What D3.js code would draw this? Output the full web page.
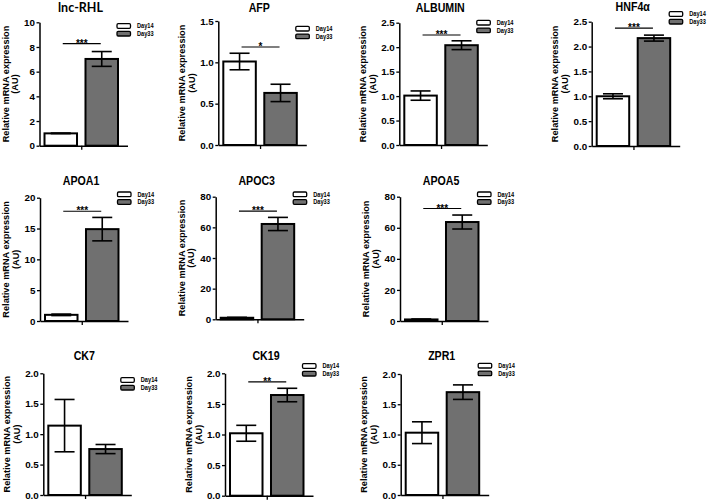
<!DOCTYPE html>
<html>
<head>
<meta charset="utf-8">
<script src="https://cdn.jsdelivr.net/npm/d3@7"></script>
<style>
  html, body { margin: 0; padding: 0; background: #fff; }
  svg { display: block; }
</style>
</head>
<body>
<div id="chart"></div>
<script>
// ---------------- DATA ----------------
const genes = ["lnc-RHL", "AFP", "ALBUMIN", "HNF4\u03b1", "APOA1", "APOC3", "APOA5", "CK7", "CK19", "ZPR1"];
const groups = ["Day14", "Day33"];
const day14Mean = [1.00, 1.01, 1.01, 1.00, 1.00, 1.00, 1.00, 1.14, 1.02, 1.03];
const day14Err  = [0.02, 0.10, 0.095, 0.05, 0.12, 0.30, 0.30, 0.43, 0.13, 0.18];
const day33Mean = [7.03, 0.63, 2.04, 2.17, 14.9, 62.2, 63.7, 0.755, 1.645, 1.70];
const day33Err  = [0.60, 0.105, 0.09, 0.06, 1.9, 4.3, 4.5, 0.075, 0.11, 0.12];
const yMax  = [10, 1.5, 2.5, 2.5, 20, 80, 80, 2.0, 2.0, 2.0];
const yStep = [2, 0.5, 0.5, 0.5, 5, 20, 20, 0.5, 0.5, 0.5];
const tickFormats = ["d", ".1f", ".1f", ".1f", "d", "d", "d", ".1f", ".1f", ".1f"];
const sigLabels = ["***", "*", "***", "***", "***", "***", "***", "", "**", ""];
const sigLevel  = [8.27, 1.185, 2.25, 2.37, 17.8, 70.6, 72.4, null, 1.86, null];
const yAxisTitle = ["Relative mRNA expression", "(AU)"];

// ---------------- LAYOUT (code, not data) ----------------
const layout = [
  { ax: 39.5,  top: 22.3,  bottom: 145.7, titleY: 11.5, legDy: 3.7 },
  { ax: 218.3, top: 21.0,  bottom: 145.0, titleY: 11.5, legDy: 7.7 },
  { ax: 399.3, top: 22.7,  bottom: 145.0, titleY: 12.0, legDy: 0.0 },
  { ax: 591.7, top: 21.7,  bottom: 146.0, titleY: 10.5, legDy: -7.7 },
  { ax: 40.0,  top: 197.7, bottom: 321.0, titleY: 185,  legDy: -3.4 },
  { ax: 215.7, top: 196.7, bottom: 319.3, titleY: 185,  legDy: -2.4 },
  { ax: 400.0, top: 196.7, bottom: 321.0, titleY: 185,  legDy: -2.4 },
  { ax: 43.3,  top: 373.3, bottom: 495.0, titleY: 360,  legDy: 6.7 },
  { ax: 225.0, top: 373.3, bottom: 495.7, titleY: 360,  legDy: -7.3 },
  { ax: 400.7, top: 374.0, bottom: 495.0, titleY: 360,  legDy: -8.3 }
];
const plotW = 88;
const fills = { Day14: "#ffffff", Day33: "#707070" };
const font = "'Liberation Sans', Arial, Helvetica, sans-serif";

const svg = d3.select("#chart").append("svg")
  .attr("width", 709).attr("height", 501)
  .attr("viewBox", "0 0 709 501");

genes.forEach((gene, i) => {
  const L = layout[i];
  const g = svg.append("g");
  const x = d3.scaleBand().domain(groups)
    .range([L.ax, L.ax + plotW])
    .paddingInner(0.207).paddingOuter(0.177).align(0.345);
  const y = d3.scaleLinear().domain([0, yMax[i]]).range([L.bottom, L.top]);

  const means = { Day14: day14Mean[i], Day33: day33Mean[i] };
  const errs  = { Day14: day14Err[i],  Day33: day33Err[i] };

  // bars
  g.selectAll("rect.bar").data(groups).join("rect")
    .attr("class", "bar")
    .attr("x", d => x(d))
    .attr("y", d => y(means[d]))
    .attr("width", x.bandwidth())
    .attr("height", d => y(0) - y(means[d]))
    .attr("fill", d => fills[d])
    .attr("stroke", "#000").attr("stroke-width", 2);

  // error bars
  const capHalf = 10;
  groups.forEach(d => {
    const cx = x(d) + x.bandwidth() / 2;
    const hi = y(means[d] + errs[d]), lo = y(means[d] - errs[d]);
    g.append("line").attr("x1", cx).attr("x2", cx).attr("y1", hi).attr("y2", lo)
      .attr("stroke", "#000").attr("stroke-width", 1.6);
    [hi, lo].forEach(yy => g.append("line")
      .attr("x1", cx - capHalf).attr("x2", cx + capHalf).attr("y1", yy).attr("y2", yy)
      .attr("stroke", "#000").attr("stroke-width", 1.6));
  });

  // y axis
  const ticks = d3.range(0, yMax[i] + yStep[i] / 2, yStep[i]);
  const yAxis = d3.axisLeft(y).tickValues(ticks).tickSize(3).tickSizeOuter(0)
    .tickPadding(1.5).tickFormat(d3.format(tickFormats[i]));
  const ya = g.append("g").attr("transform", `translate(${L.ax},0)`).call(yAxis);
  ya.select(".domain").attr("stroke-width", 1.5);
  ya.selectAll(".tick line").attr("stroke-width", 1.3);
  ya.selectAll("text").attr("font-family", font).attr("font-weight", "bold")
    .attr("font-size", 9.8).attr("fill", "#000");

  // x axis with a single centre tick
  const mid = (x("Day14") + x.bandwidth() + x("Day33")) / 2;
  const xs = d3.scaleLinear().domain([L.ax, L.ax + plotW]).range([L.ax, L.ax + plotW]);
  const xa = g.append("g").attr("transform", `translate(0,${L.bottom})`)
    .call(d3.axisBottom(xs).tickValues([mid]).tickSize(4).tickSizeOuter(0).tickFormat(""));
  xa.select(".domain").attr("stroke-width", 1.5);
  xa.selectAll(".tick line").attr("stroke-width", 1.3);

  // y axis title (two lines, rotated)
  const cy = (L.top + L.bottom) / 2;
  const off = tickFormats[i] === "d" ? [-34, -24.5] : [-36.5, -26.5];
  yAxisTitle.forEach((t, k) => {
    g.append("text")
      .attr("transform", `translate(${L.ax + off[k]},${cy}) rotate(-90)`)
      .attr("text-anchor", "middle").attr("dominant-baseline", "central")
      .attr("font-family", font).attr("font-weight", "bold").attr("font-size", 9.2)
      .text(t);
  });

  // title
  const isLnc = gene === "lnc-RHL";
  g.append("text")
    .attr("transform", `translate(${L.ax + 41},${L.titleY}) scale(${isLnc ? 1 : 0.85},1)`)
    .attr("text-anchor", "middle")
    .attr("font-family", isLnc ? "Lato, 'Open Sans', sans-serif" : font)
    .attr("font-weight", "bold")
    .attr("font-size", 12.5)
    .text(gene);

  // significance bracket
  if (sigLabels[i]) {
    const c1 = x("Day14") + x.bandwidth() / 2 + 2;
    const c2 = x("Day33") + x.bandwidth() / 2 - 1;
    const ly = y(sigLevel[i]);
    g.append("line").attr("x1", c1).attr("x2", c2).attr("y1", ly).attr("y2", ly)
      .attr("stroke", "#000").attr("stroke-width", 1.1);
    g.append("text").attr("x", (c1 + c2) / 2).attr("y", ly + 3)
      .attr("text-anchor", "middle").attr("font-family", font).attr("font-weight", "bold")
      .attr("font-size", 10).text(sigLabels[i]);
  }

  // legend
  const lx = L.ax + 77.5, ly0 = L.top + L.legDy;
  groups.forEach((d, k) => {
    const yy = ly0 + k * 7.7;
    g.append("rect").attr("x", lx).attr("y", yy - 2.3).attr("width", 13.5).attr("height", 4.6)
      .attr("rx", 1.2).attr("fill", fills[d]).attr("stroke", "#000").attr("stroke-width", 1.3);
    g.append("text")
      .attr("transform", `translate(${lx + 20},${yy + 2.3}) scale(0.83,1)`)
      .attr("font-family", font).attr("font-weight", "bold").attr("font-size", 6.8)
      .text(d);
  });
});
</script>
</body>
</html>
